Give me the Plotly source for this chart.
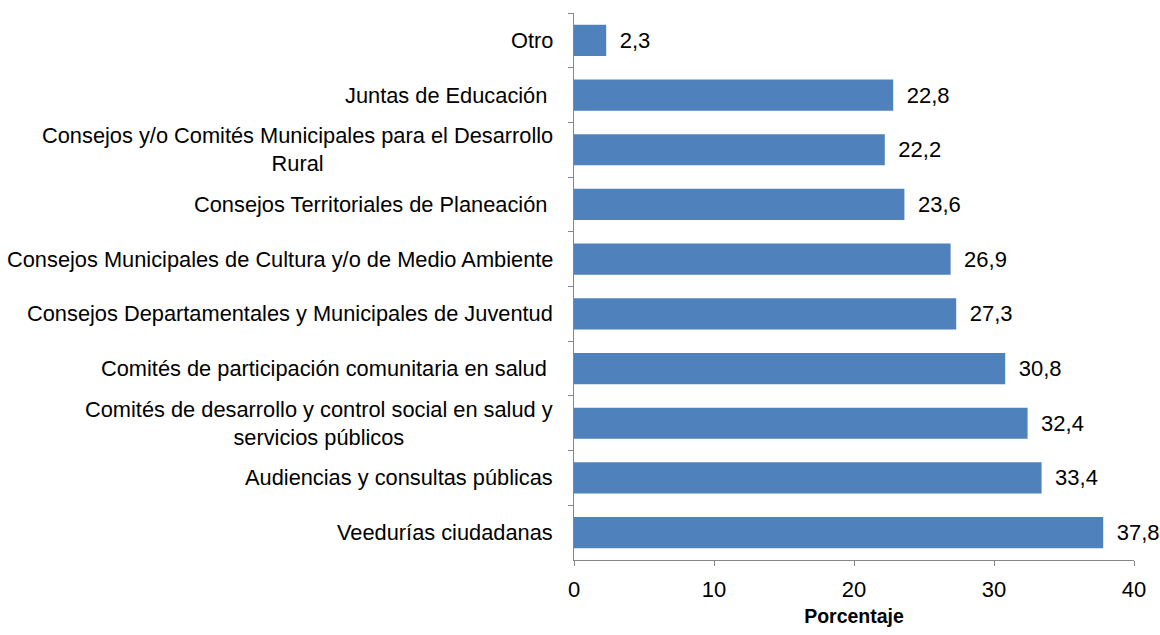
import plotly.graph_objects as go

categories = [
    "Otro",
    "Juntas de Educación ",
    "Consejos y/o Comités Municipales para el Desarrollo<br>Rural",
    "Consejos Territoriales de Planeación ",
    "Consejos Municipales de Cultura y/o de Medio Ambiente",
    "Consejos Departamentales y Municipales de Juventud",
    "Comités de participación comunitaria en salud ",
    "Comités de desarrollo y control social en salud y<br>servicios públicos",
    "Audiencias y consultas públicas",
    "Veedurías ciudadanas",
]
values = [2.3, 22.8, 22.2, 23.6, 26.9, 27.3, 30.8, 32.4, 33.4, 37.8]
x_ticks = [0, 10, 20, 30, 40]
x_title = "Porcentaje"

FONT = "Arial, 'Liberation Sans', sans-serif"
BAR_COLOR = "#4F81BD"
AXIS_COLOR = "#868686"

labels = ["\u00a0\u2009" + f"{v:.1f}".replace(".", ",") for v in values]

fig = go.Figure(
    go.Bar(
        x=values,
        y=categories,
        orientation="h",
        marker=dict(color=BAR_COLOR, line=dict(width=0)),
        text=labels,
        textposition="outside",
        textfont=dict(family=FONT, size=22, color="#000000"),
        cliponaxis=False,
        width=0.57,
        hoverinfo="skip",
    )
)

annotations = []
for c in categories:
    txt = c[:-1] + "\u00a0" if c.endswith(" ") else c
    annotations.append(
        dict(
            x=0, xref="paper", y=c, yref="y",
            text=txt, showarrow=False,
            xanchor="right", yanchor="middle", align="center",
            xshift=-19,
            font=dict(family=FONT, size=21.8, color="#000000"),
        )
    )

fig.update_layout(
    width=1160, height=635,
    margin=dict(l=574, r=26, t=13, b=64, pad=0),
    paper_bgcolor="white", plot_bgcolor="white",
    showlegend=False,
    annotations=annotations,
    xaxis=dict(
        range=[0, 40],
        tickvals=x_ticks,
        ticktext=[str(t) for t in x_ticks],
        showgrid=False, zeroline=False,
        showline=True, linecolor=AXIS_COLOR, linewidth=1,
        ticks="outside", ticklen=5, tickcolor=AXIS_COLOR,
        ticklabelstandoff=5,
        tickfont=dict(family=FONT, size=22, color="#000000"),
        title=dict(text="<b>" + x_title + "</b>",
                   font=dict(family=FONT, size=19.5, color="#000000"),
                   standoff=7),
    ),
    yaxis=dict(
        type="category",
        autorange="reversed",
        showgrid=False, zeroline=False,
        showline=True, linecolor=AXIS_COLOR, linewidth=1,
        ticks="outside", ticklen=5, tickcolor=AXIS_COLOR,
        tickson="boundaries",
        showticklabels=False,
    ),
)

fig.write_html(
    "out.html",
    config={"displayModeBar": False},
    post_script="document.body.style.margin='0';document.body.style.overflow='hidden';",
)
